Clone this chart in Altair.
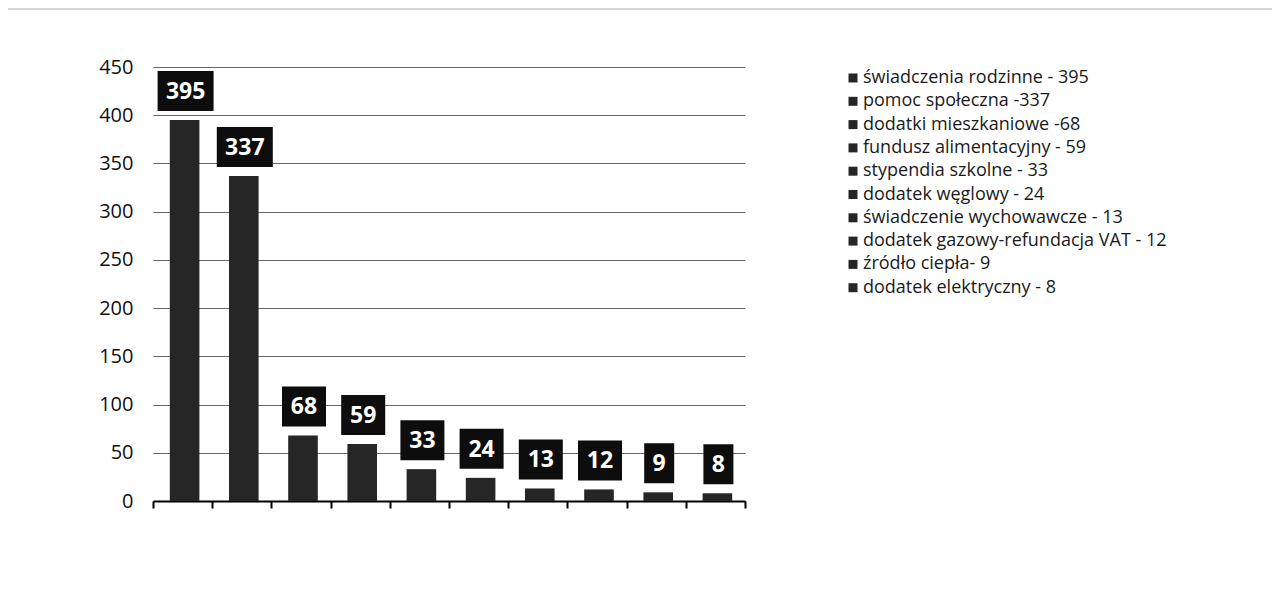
import altair as alt
import pandas as pd

categories = [
    "świadczenia rodzinne - 395",
    "pomoc społeczna -337",
    "dodatki mieszkaniowe -68",
    "fundusz alimentacyjny - 59",
    "stypendia szkolne - 33",
    "dodatek węglowy - 24",
    "świadczenie wychowawcze - 13",
    "dodatek gazowy-refundacja VAT - 12",
    "źródło ciepła- 9",
    "dodatek elektryczny - 8",
]
values = [395, 337, 68, 59, 33, 24, 13, 12, 9, 8]
y_ticks = list(range(0, 451, 50))

df = pd.DataFrame({"cat": categories, "value": values})
df["digits"] = df["value"].astype(str).str.len().astype(str)

FONT = "Open Sans"
BAR = "#262626"

x_enc = alt.X(
    "cat:N",
    sort=categories,
    scale=alt.Scale(paddingInner=0, paddingOuter=0),
    axis=alt.Axis(
        title=None, labels=False, tickBand="extent", ticks=True,
        tickSize=7, tickWidth=2, tickColor="#000",
        domainColor="#000", domainWidth=2, grid=False,
    ),
)
y_enc = alt.Y(
    "value:Q",
    scale=alt.Scale(domain=[0, 450], nice=False),
    axis=alt.Axis(
        title=None, values=y_ticks, domain=False, ticks=False,
        labelPadding=20, labelFont=FONT, labelFontSize=20, labelColor="#111",
        grid=True, gridColor="#666", gridWidth=1,
    ),
)

base = alt.Chart(df)

bars = base.mark_bar(xOffset=2, width=alt.RelativeBandSize(0.5)).encode(
    x=x_enc,
    y=y_enc,
    color=alt.Color(
        "cat:N",
        sort=categories,
        scale=alt.Scale(domain=categories, range=[BAR] * len(categories)),
        legend=alt.Legend(
            title=None, orient="none", legendX=691, legendY=2,
            symbolType="square", symbolSize=81, symbolStrokeWidth=0,
            labelFont=FONT, labelFontSize=18, labelColor="#1a1a1a",
            labelOffset=1, rowPadding=5.3, padding=0, labelLimit=0,
        ),
    ),
)

box_paths = {
    "1": "M-0.75,-1L0.75,-1L0.75,1L-0.75,1Z",
    "2": "M-1.1,-1L1.1,-1L1.1,1L-1.1,1Z",
    "3": "M-1.4,-1L1.4,-1L1.4,1L-1.4,1Z",
}
boxes = base.mark_point(filled=True, opacity=1, size=1600, xOffset=3, yOffset=-29, color="#0d0d0d", strokeWidth=0).encode(
    x=alt.X("cat:N", sort=categories),
    y="value:Q",
    shape=alt.Shape(
        "digits:N",
        scale=alt.Scale(domain=list(box_paths.keys()), range=list(box_paths.values())),
        legend=None,
    ),
)

texts = base.mark_text(
    color="white", font=FONT, fontSize=23, fontWeight="bold",
    baseline="middle", align="center", dy=-28, dx=3,
).encode(
    x=alt.X("cat:N", sort=categories),
    y="value:Q",
    text="value:Q",
)

frame_df = pd.DataFrame({"a": [0]})
frame_top = alt.Chart(frame_df).mark_rule(color="#aaa", strokeWidth=1).encode(
    x=alt.value(-146), x2=alt.value(1124), y=alt.value(-58)
)
frame_left = alt.Chart(frame_df).mark_rule(color="#aaa", strokeWidth=1).encode(
    x=alt.value(-146), y=alt.value(-58), y2=alt.value(533)
)

chart = alt.layer(bars, boxes, texts, frame_top, frame_left).properties(
    width=592,
    height=434,
    background="white",
    autosize=alt.AutoSizeParams(type="none"),
    padding={"left": 145, "top": 59, "right": 527, "bottom": 93},
).configure_view(stroke=None)

chart.save("out.html", embed_options={"renderer": "svg", "actions": False})
